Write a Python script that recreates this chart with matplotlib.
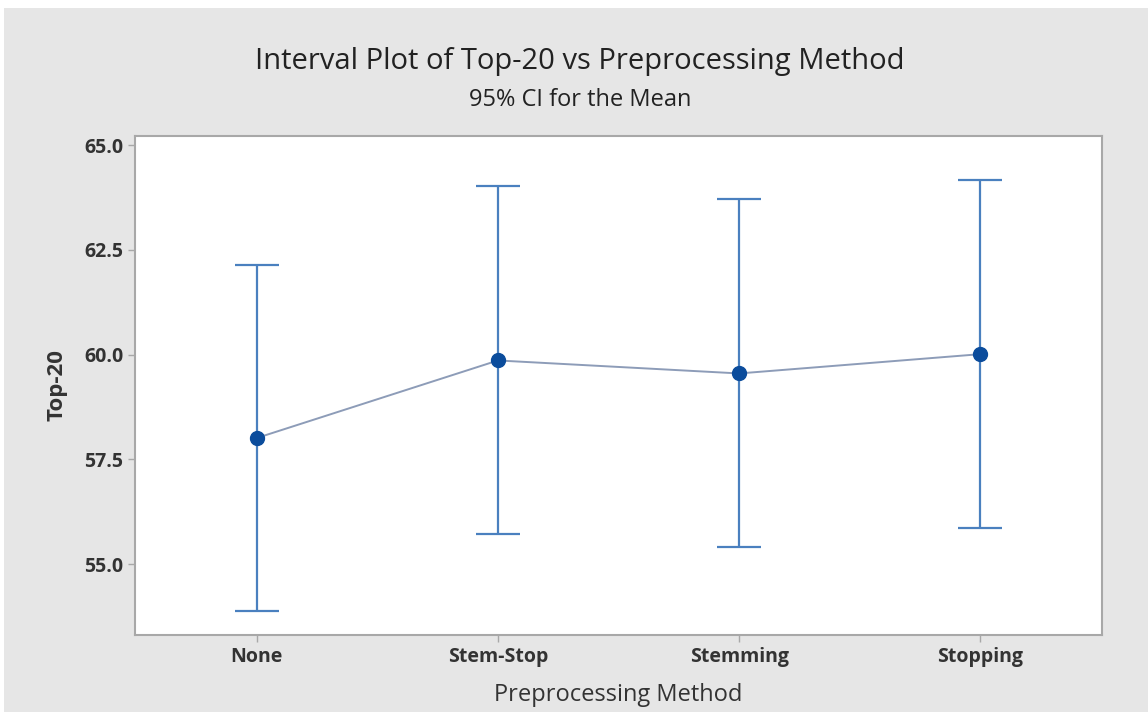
import matplotlib.pyplot as plt
from matplotlib.patches import Rectangle

# Interval plot data
methods = ['None', 'Stem-Stop', 'Stemming', 'Stopping']
means = [58.01, 59.86, 59.55, 60.01]
upper = [62.13, 64.02, 63.71, 64.16]
lower = [53.88, 55.72, 55.41, 55.86]
yticks = [55.0, 57.5, 60.0, 62.5, 65.0]

plt.rcParams['font.family'] = ['Open Sans', 'DejaVu Sans']

fig = plt.figure(figsize=(11.48, 7.12), dpi=100)
fig.patch.set_facecolor('white')
# gray panel behind the chart
fig.patches.append(Rectangle((4/1148, 0), 1 - 4/1148, 1 - 8/712, transform=fig.transFigure,
                             facecolor='#e6e6e6', edgecolor='none', zorder=-5))

ax = fig.add_axes([135/1148, 77/712, 967/1148, 499/712])
ax.set_facecolor('white')

x = list(range(len(methods)))
yerr = [[m - l for m, l in zip(means, lower)], [u - m for m, u in zip(means, upper)]]

ax.errorbar(x, means, yerr=yerr, fmt='none', ecolor='#4a80bf', elinewidth=1.6,
            capsize=16, capthick=1.6, zorder=2)
ax.plot(x, means, color='#8d9cb8', linewidth=1.4, zorder=3)
ax.plot(x, means, 'o', color='#0b4c9c', markersize=10, zorder=4)

ax.set_xlim(-0.505, 3.505)
ax.set_ylim(53.31, 65.215)
ax.set_xticks(x)
ax.set_xticklabels(methods)
ax.set_yticks(yticks)
ax.set_yticklabels(['%.1f' % v for v in yticks])

for s in ax.spines.values():
    s.set_color('#a8a8a8')
    s.set_linewidth(1.5)
ax.tick_params(axis='both', colors='#a8a8a8', length=5, width=1, labelcolor='#333333',
               labelsize=14)
for lab in ax.get_xticklabels() + ax.get_yticklabels():
    lab.set_fontweight('bold')

ax.set_ylabel('Top-20', fontsize=16, fontweight='bold', color='#333333', labelpad=12)
ax.set_xlabel('Preprocessing Method', fontsize=17, color='#333333', labelpad=12)

fig.text(0.505, 0.913, 'Interval Plot of Top-20 vs Preprocessing Method', ha='center',
         va='center', fontsize=21, color='#222222')
fig.text(0.505, 0.859, '95% CI for the Mean', ha='center', va='center', fontsize=17,
         color='#222222')

fig.savefig('out.png', dpi=100, facecolor=fig.get_facecolor())
